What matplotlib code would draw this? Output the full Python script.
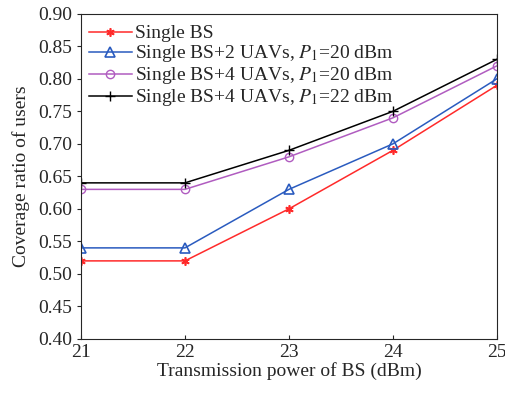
import matplotlib
matplotlib.use('Agg')
import matplotlib.pyplot as plt

plt.rcParams['font.family'] = 'Liberation Serif'
plt.rcParams['mathtext.fontset'] = 'stix'
plt.rcParams['text.color'] = '#262626'
plt.rcParams['xtick.color'] = '#262626'
plt.rcParams['ytick.color'] = '#262626'
plt.rcParams['axes.labelcolor'] = '#262626'

power = [21, 22, 23, 24, 25]
single_bs = [0.52, 0.52, 0.60, 0.69, 0.79]
bs_2uav_20 = [0.54, 0.54, 0.63, 0.70, 0.80]
bs_4uav_20 = [0.63, 0.63, 0.68, 0.74, 0.82]
bs_4uav_22 = [0.64, 0.64, 0.69, 0.75, 0.83]
yticks = [0.40, 0.45, 0.50, 0.55, 0.60, 0.65, 0.70, 0.75, 0.80, 0.85, 0.90]

fig = plt.figure(figsize=(5.06, 3.95), dpi=100)
ax = fig.add_axes([0.160, 0.142, 0.822, 0.823])

ax.plot(power, single_bs, color='#ff2a2a', marker=(6, 2, 0), ms=6, mew=1.2,
        lw=1.1, label='Single BS')
ax.plot(power, bs_2uav_20, color='#2a5bbf', marker='^', ms=6.5, lw=1.1,
        mew=1.2, mfc='none', label='Single BS+2 UAVs, $P_1$=20 dBm')
ax.plot(power, bs_4uav_20, color='#b05cc0', marker='o', ms=6, lw=1.1,
        mfc='none', label='Single BS+4 UAVs, $P_1$=20 dBm')
ax.plot(power, bs_4uav_22, color='black', marker='+', ms=7, lw=1.1,
        label='Single BS+4 UAVs, $P_1$=22 dBm')

ax.set_xlim(21, 25)
ax.set_ylim(0.40, 0.90)
ax.set_xticks(power)
ax.set_yticks(yticks)
ax.set_yticklabels(['%.2f' % v for v in yticks])
ax.tick_params(labelsize=14, length=3)
ax.tick_params(axis='x', direction='in')
ax.tick_params(axis='y', direction='out')
for s in ax.spines.values():
    s.set_color('#262626')
ax.set_xlabel('Transmission power of BS (dBm)', fontsize=14, labelpad=1)
ax.set_ylabel('Coverage ratio of users', fontsize=14, labelpad=6)
ax.legend(loc='upper left', frameon=False, fontsize=14, handlelength=2.2,
          handletextpad=0.2, labelspacing=0.05, borderaxespad=0.0,
          bbox_to_anchor=(0.0, 0.99))

fig.savefig('out.png', dpi=100)
